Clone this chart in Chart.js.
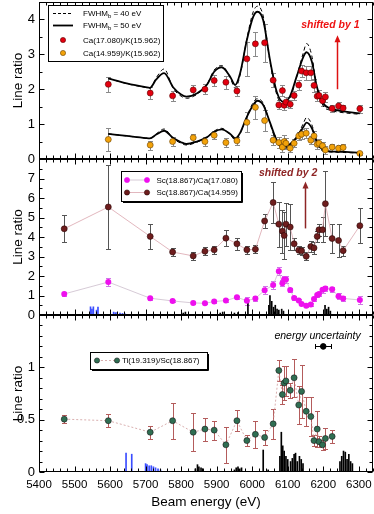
<!DOCTYPE html>
<html><head><meta charset="utf-8">
<script src="https://cdn.jsdelivr.net/npm/chart.js@4.4.1/dist/chart.umd.min.js"></script>
<style>
html,body{margin:0;padding:0;background:#fff;width:374px;height:514px;overflow:hidden;position:relative;}
canvas{position:absolute;left:0;}
</style></head><body>
<canvas id="cA" width="390" height="189" style="top:-14px"></canvas>
<canvas id="cB" width="390" height="188" style="top:143px"></canvas>
<canvas id="cC" width="390" height="215" style="top:299px"></canvas>
<script>
// ===================== DATA =====================
const energies = [5471,5595,5713,5776,5834,5867,5893,5926,5957,5985,6009,6035,6059,6075,6085,6090,6095,6107,6118,6131,6139,6152,6165,6174,6183,6188,6198,6206,6225,6243,6256,6303];

// Top panel: Ca(17.080)/K(15.962) (plotted shifted by +1) and Ca(14.959)/K(15.962)
const caK17    = [null,1.14,0.89,0.81,0.98,1.00,1.25,1.20,0.95,1.87,2.30,2.33,1.26,0.55,0.96,0.54,0.63,0.57,0.82,1.12,1.52,1.47,1.47,1.11,0.80,0.82,0.67,0.78,0.45,0.52,0.46,0.44];
const caK17Err = [null,0.21,0.18,0.14,0.15,0.15,0.16,0.18,0.15,0.48,0.35,0.54,0.21,0.13,0.15,0.13,0.14,0.12,0.14,0.14,0.18,0.20,0.20,0.19,0.15,0.15,0.14,0.15,0.10,0.10,0.08,0.12];
const caK14    = [null,0.56,0.40,0.50,0.61,0.50,0.68,0.47,0.52,1.05,1.48,1.10,0.54,0.47,0.34,0.50,0.45,0.31,0.45,0.66,0.71,0.74,0.54,0.66,0.42,0.45,0.38,0.26,0.34,0.31,0.33,0.16];
const caK14Err = [null,0.34,0.13,0.12,0.12,0.12,0.12,0.12,0.12,0.29,0.32,0.31,0.14,0.15,0.15,0.20,0.15,0.10,0.12,0.12,0.14,0.14,0.12,0.13,0.12,0.12,0.12,0.12,0.10,0.10,0.10,0.05];

// Theory curves
const theoryE      = [5595,5647,5700,5712,5730,5752,5778,5800,5815,5844,5872,5893,5914,5938,5952,5966,5985,6003,6015,6031,6050,6069,6088,6106,6125,6144,6153,6168,6182,6200,6219,6247,6303];
const fwhm50Upper  = [1.31,1.17,1.06,1.04,1.28,1.46,1.05,0.85,0.79,0.88,1.12,1.50,1.63,1.36,1.12,1.46,2.41,3.08,3.22,2.98,1.84,0.93,0.64,0.79,1.36,1.93,2.06,1.79,1.07,0.60,0.45,0.38,0.31];
const fwhm40Upper  = [1.31,1.16,1.05,1.03,1.33,1.58,1.02,0.80,0.74,0.85,1.12,1.55,1.68,1.33,1.03,1.40,2.45,3.22,3.38,3.10,1.80,0.85,0.55,0.72,1.35,2.05,2.31,1.95,1.05,0.52,0.40,0.34,0.28];
const fwhm50Lower  = [0.72,0.66,0.60,0.59,0.70,0.81,0.60,0.48,0.43,0.50,0.62,0.78,0.85,0.72,0.59,0.75,1.21,1.55,1.67,1.55,1.05,0.54,0.35,0.42,0.62,0.92,1.04,0.88,0.50,0.26,0.22,0.21,0.18];
const fwhm40Lower  = [0.72,0.66,0.60,0.59,0.72,0.86,0.58,0.45,0.40,0.48,0.62,0.80,0.88,0.70,0.55,0.72,1.22,1.62,1.73,1.60,1.02,0.48,0.30,0.38,0.62,1.02,1.19,0.98,0.48,0.22,0.20,0.19,0.17];

// Middle panel: Sc(18.867)/Ca(17.080) and Sc(18.867)/Ca(14.959) (plotted shifted by +2)
const scCa17    = [1.08,1.69,0.86,0.72,0.62,0.60,0.69,0.74,0.91,0.73,0.85,1.27,1.54,2.25,1.63,1.82,1.82,1.28,0.87,0.74,0.57,0.47,0.54,0.82,1.03,1.08,1.30,1.36,1.32,0.96,0.85,0.77];
const scCa17Err = [0.12,0.22,0.08,0.06,0.06,0.06,0.06,0.06,0.08,0.20,0.15,0.20,0.20,0.22,0.15,0.20,0.20,0.12,0.08,0.07,0.07,0.06,0.07,0.10,0.10,0.10,0.15,0.15,0.12,0.15,0.15,0.20];
const scCa14    = [2.42,3.54,2.03,1.23,1.03,1.27,1.34,1.94,1.65,1.34,1.37,2.82,3.77,2.66,2.30,2.08,2.66,2.51,1.65,1.32,1.29,1.01,1.51,1.44,2.03,2.37,2.37,3.71,1.92,1.82,1.30,2.58];
const scCa14Err = [0.69,2.15,0.63,0.19,0.20,0.20,0.20,0.41,0.30,0.20,0.20,0.38,1.05,1.16,1.10,1.20,1.10,1.20,0.30,0.20,0.20,0.20,0.30,0.30,0.30,0.30,0.65,1.65,0.75,0.85,0.25,0.90];

// Bottom panel: Ti(19.319)/Sc(18.867)
const tiSc    = [0.505,0.49,0.38,0.49,0.38,0.41,0.40,0.26,0.49,0.30,0.36,0.33,0.46,0.97,0.74,0.85,0.87,0.78,0.90,0.64,0.77,0.58,0.53,0.30,0.41,0.29,0.26,0.32,0.34,null,null,null];
const tiScErr = [0.035,0.06,0.06,0.17,0.18,0.11,0.09,0.17,0.10,0.05,0.13,0.07,0.14,0.10,0.09,0.16,0.14,0.07,0.18,0.18,0.25,0.14,0.19,0.05,0.17,0.05,0.05,0.10,0.06,null,null,null];

// Energy uncertainty marker
const uncertE = [6200], uncertRatio = [1.2], uncertDE = [22];

// Theoretical line spectra (stick heights)
const midBlueE  = [5545,5549,5553,5562,5566,5610,5615,5620,5628,5635,5642];
const midBlueH  = [0.42,0.30,0.42,0.25,0.40,0.15,0.12,0.13,0.10,0.08,0.06];
const midBlackE = [5806,5812,5910,5917,5950,5960,5988,6047,6050,6055,6060,6065,6070,6075,6083,6088,6205,6210,6215,6220];
const midBlackH = [0.10,0.15,0.10,0.15,0.10,0.12,0.60,0.50,1.00,0.70,0.40,0.50,0.30,0.25,0.30,0.20,0.50,0.30,0.40,0.20];
const botBlueE  = [5645,5661,5700,5704,5710,5716,5722,5728,5735,5742];
const botBlueH  = [0.18,0.17,0.08,0.07,0.06,0.06,0.05,0.04,0.03,0.02];
const botBlackE = [5840,5846,5850,5856,5862,5950,5955,5960,5965,5970,6031,6045,6078,6082,6086,6090,6095,6100,6108,6113,6118,6122,6127,6133,6138,6143,6247,6252,6257,6262,6267,6272,6277,6282];
const botBlackH = [0.03,0.07,0.05,0.04,0.03,0.02,0.04,0.05,0.03,0.04,0.21,0.02,0.15,0.38,0.25,0.20,0.15,0.12,0.10,0.13,0.17,0.18,0.10,0.15,0.12,0.08,0.10,0.15,0.20,0.19,0.12,0.17,0.10,0.08];

const xTicks = [5400,5500,5600,5700,5800,5900,6000,6100,6200,6300];
const yTicksTop = [0,1,2,3,4];
const yTicksMid = [0,1,2,3,4,5,6,7];
const yTicksBot = [0,0.5,1];
const SHIFT_TOP = 1, SHIFT_MID = 2;

// ===================== HELPERS =====================
const FONT = "'Liberation Sans', Arial, Helvetica, sans-serif";
const LEG_FONT = '8px ' + FONT;
const pts = (xs, ys, shift=0) => xs.map((x,i)=>({x, y: ys[i]==null ? null : ys[i]+shift}));

const errPlugin = {
  id:'errbars',
  beforeDatasetsDraw(chart){
    const ctx = chart.ctx;
    chart.data.datasets.forEach((ds,di)=>{
      if(!ds.errY && !ds.errX) return;
      const meta = chart.getDatasetMeta(di);
      const xs = chart.scales[meta.xAxisID], ys = chart.scales[meta.yAxisID];
      ctx.save(); ctx.strokeStyle = ds.errColor; ctx.lineWidth = 1;
      ds.data.forEach((p,i)=>{
        if(p.y==null) return;
        const x = Math.round(xs.getPixelForValue(p.x))+0.5;
        const y = Math.round(ys.getPixelForValue(p.y))+0.5;
        ctx.beginPath();
        if(ds.errY && ds.errY[i]!=null){
          const e = ds.errY[i];
          const y1 = Math.round(ys.getPixelForValue(p.y-e))+0.5, y2 = Math.round(ys.getPixelForValue(p.y+e))+0.5;
          ctx.moveTo(x,y1); ctx.lineTo(x,y2);
          ctx.moveTo(x-2.5,y1); ctx.lineTo(x+2.5,y1);
          ctx.moveTo(x-2.5,y2); ctx.lineTo(x+2.5,y2);
        }
        if(ds.errX && ds.errX[i]!=null){
          const e = ds.errX[i];
          const x1 = Math.round(xs.getPixelForValue(p.x-e))+0.5, x2 = Math.round(xs.getPixelForValue(p.x+e))+0.5;
          ctx.moveTo(x1,y); ctx.lineTo(x2,y);
          ctx.moveTo(x1,y-2.5); ctx.lineTo(x1,y+2.5);
          ctx.moveTo(x2,y-2.5); ctx.lineTo(x2,y+2.5);
        }
        ctx.stroke();
      });
      ctx.restore();
    });
  }
};

function framePlugin(yMajorStep, yMinorStep){
  return {id:'frame', afterDatasetsDraw(chart){
    const {ctx, chartArea:a, scales} = chart;
    const xs = scales.x, ys = scales.y;
    const L = Math.round(a.left)+0.5, R = Math.round(a.right)-0.5, T = Math.round(a.top)+0.5, B = Math.round(a.bottom)-0.5;
    ctx.save(); ctx.strokeStyle='#000'; ctx.lineWidth=1;
    ctx.beginPath();
    for(let e=xs.min; e<=xs.max+1e-6; e+=20){
      const px = Math.round(xs.getPixelForValue(e))+0.5;
      const len = (Math.round(e)%100===0) ? 5 : 3;
      ctx.moveTo(px,B); ctx.lineTo(px,B-len);
      ctx.moveTo(px,T); ctx.lineTo(px,T+len);
    }
    for(let v=ys.min; v<=ys.max+1e-6; v+=yMinorStep){
      const py = Math.round(ys.getPixelForValue(v))+0.5;
      const r = v/yMajorStep, len = Math.abs(r-Math.round(r))<1e-6 ? 5 : 3;
      ctx.moveTo(L,py); ctx.lineTo(L+len,py);
      ctx.moveTo(R,py); ctx.lineTo(R-len,py);
    }
    ctx.stroke();
    ctx.strokeRect(L,T,R-L,B-T);
    ctx.restore();
  }};
}

function yScale(min,max,ticks){
  return {type:'linear', min, max, position:'left',
    afterFit(s){ s.width = 39; },
    afterBuildTicks(s){ s.ticks = ticks.map(v=>({value:v})); },
    grid:{display:false, drawTicks:false}, border:{display:false},
    ticks:{font:{family:FONT,size:13}, color:'#000', padding:4, autoSkip:false, callback:v=>String(v)},
    title:{display:true, text:'Line ratio', font:{family:FONT,size:13.5}, color:'#000', padding:{top:10,bottom:0}}
  };
}
function xScale(show){
  return {type:'linear', min:5400, max:6340, offset:false, display:show,
    afterBuildTicks(s){ s.ticks = xTicks.map(v=>({value:v})); },
    afterFit(s){ if(show) s.height = 40; },
    grid:{display:false, drawTicks:false, offset:false}, border:{display:false},
    ticks:{font:{family:FONT,size:11.5}, color:'#000', padding:6, maxRotation:0, autoSkip:false, callback:v=>String(v)},
    title:{display:true, text:'Beam energy (eV)', font:{family:FONT,size:13.5}, color:'#000', padding:{top:0,bottom:2}}
  };
}
function baseOptions(yS, show, pad){
  return {responsive:false, animation:false, events:[],
    layout:{padding:pad},
    plugins:{legend:{display:false}, tooltip:{enabled:false}},
    scales:{x:xScale(show), y:yS}};
}
function scatterDS(data, fill, border, errY, errColor, extra={}){
  return Object.assign({type:'line', data, showLine:false, pointRadius:3, pointBorderWidth:0.6,
    pointBackgroundColor:fill, pointBorderColor:border, borderColor:fill, errY, errColor, order:1}, extra);
}
function sticks(E,H,color){
  return {type:'bar', data:E.map((x,i)=>({x,y:H[i]})), backgroundColor:color, borderWidth:0,
    barThickness:1, grouped:false, order:10};
}
function arrow(ctx,x,y1,y2,color){
  ctx.save(); ctx.strokeStyle=color; ctx.fillStyle=color; ctx.lineWidth=1.5;
  ctx.beginPath(); ctx.moveTo(x,y1); ctx.lineTo(x,y2+5); ctx.stroke();
  ctx.beginPath(); ctx.moveTo(x,y2); ctx.lineTo(x-3,y2+7); ctx.lineTo(x+3,y2+7); ctx.closePath(); ctx.fill();
  ctx.restore();
}
function legendBox(ctx,x,y,w,h,shadow){
  ctx.save(); ctx.fillStyle='#fff'; ctx.fillRect(x,y,w,h);
  ctx.strokeStyle='#000'; ctx.lineWidth=1; ctx.strokeRect(x+0.5,y+0.5,w,h);
  if(shadow){ ctx.beginPath(); ctx.moveTo(x+2,y+h+1.5); ctx.lineTo(x+w+1.5,y+h+1.5); ctx.lineTo(x+w+1.5,y+2); ctx.stroke(); }
  ctx.restore();
}
function dot(ctx,x,y,fill,border){
  ctx.save(); ctx.beginPath(); ctx.arc(x,y,2.6,0,Math.PI*2); ctx.fillStyle=fill; ctx.fill();
  ctx.lineWidth=0.6; ctx.strokeStyle=border; ctx.stroke(); ctx.restore();
}
function txt(ctx,s,x,y,font,color,align){
  ctx.save(); ctx.font=font; ctx.fillStyle=color||'#000'; ctx.textAlign=align||'left'; ctx.textBaseline='middle';
  ctx.fillText(s,x,y); ctx.restore();
}

const RED='#e3000f', RED_B='#5a0000', ORA='#f2a20a', ORA_B='#6a4000';
const MAG='#ee10ee', BRN='#6e1d1d', GRN='#2f6e52';

// ===================== CHART A (top) =====================
const oyA = -14;
new Chart(document.getElementById('cA'), {
  type:'line',
  data:{datasets:[
    {data:pts(theoryE,fwhm40Upper,SHIFT_TOP), borderColor:'#000', borderWidth:1, borderDash:[4,3], pointRadius:0, cubicInterpolationMode:'monotone', order:3},
    {data:pts(theoryE,fwhm50Upper,SHIFT_TOP), borderColor:'#000', borderWidth:1.8, pointRadius:0, cubicInterpolationMode:'monotone', order:2},
    {data:pts(theoryE,fwhm40Lower), borderColor:'#000', borderWidth:1, borderDash:[4,3], pointRadius:0, cubicInterpolationMode:'monotone', order:3},
    {data:pts(theoryE,fwhm50Lower), borderColor:'#000', borderWidth:1.8, pointRadius:0, cubicInterpolationMode:'monotone', order:2},
    scatterDS(pts(energies,caK17,SHIFT_TOP), RED, RED_B, caK17Err, '#8a8a8a'),
    scatterDS(pts(energies,caK14), ORA, ORA_B, caK14Err, '#8a8a8a')
  ]},
  options: baseOptions(yScale(0,4.5,yTicksTop), false, {top:16,bottom:16,left:0,right:17}),
  plugins:[errPlugin, framePlugin(1,0.5), {id:'decoA', afterDraw(chart){
    const ctx=chart.ctx, xs=chart.scales.x, ys=chart.scales.y;
    legendBox(ctx,48,5-oyA,115,56,false);
    const f=LEG_FONT;
    ctx.save(); ctx.strokeStyle='#000';
    ctx.lineWidth=1; ctx.setLineDash([3,2]); ctx.beginPath(); ctx.moveTo(53,13.5-oyA); ctx.lineTo(73,13.5-oyA); ctx.stroke();
    ctx.setLineDash([]); ctx.lineWidth=1.8; ctx.beginPath(); ctx.moveTo(53,25.5-oyA); ctx.lineTo(73,25.5-oyA); ctx.stroke();
    ctx.restore();
    [['40',13.5],['50',25.5]].forEach(([w,y])=>{
      ctx.save(); ctx.font=f; const w1=ctx.measureText('FWHM').width; ctx.font='6px '+FONT; const w2=ctx.measureText('b').width; ctx.restore();
      txt(ctx,'FWHM',83,y-oyA,f);
      txt(ctx,'b',83+w1,y+2.5-oyA,'6px '+FONT);
      txt(ctx,' = '+w+' eV',83+w1+w2,y-oyA,f);
    });
    dot(ctx,63,40-oyA,RED,RED_B); txt(ctx,'Ca(17.080)/K(15.962)',83,40.5-oyA,f);
    dot(ctx,63,53-oyA,ORA,ORA_B); txt(ctx,'Ca(14.959)/K(15.962)',83,53.5-oyA,f);
    txt(ctx,'shifted by 1', xs.getPixelForValue(6220), ys.getPixelForValue(3.84), 'italic bold 10.5px '+FONT, '#ee1111','center');
    arrow(ctx, Math.round(xs.getPixelForValue(6239))+0.5, ys.getPixelForValue(2.0), ys.getPixelForValue(3.55), '#dd1111');
  }}]
});

// ===================== CHART B (middle) =====================
const oyB = 143;
new Chart(document.getElementById('cB'), {
  type:'line',
  data:{datasets:[
    scatterDS(pts(energies,scCa17), MAG, MAG, scCa17Err, '#cf78e6', {showLine:true, borderColor:'#cbbccb', borderWidth:0.8, pointBorderWidth:0}),
    scatterDS(pts(energies,scCa14,SHIFT_MID), BRN, '#2a0505', scCa14Err, '#555555', {showLine:true, borderColor:'#dba5ad', borderWidth:0.8}),
    sticks(midBlueE,midBlueH,'#3a4dff'),
    sticks(midBlackE,midBlackH,'#000')
  ]},
  options: baseOptions(yScale(0,8,yTicksMid), false, {top:16,bottom:16,left:0,right:17}),
  plugins:[errPlugin, framePlugin(1,0.5), {id:'decoB', afterDraw(chart){
    const ctx=chart.ctx, xs=chart.scales.x, ys=chart.scales.y;
    legendBox(ctx,121,171-oyB,120,30,true);
    const f=LEG_FONT;
    ctx.save(); ctx.lineWidth=0.8;
    ctx.strokeStyle='#cbbccb'; ctx.beginPath(); ctx.moveTo(127,180-oyB); ctx.lineTo(147,180-oyB); ctx.stroke();
    ctx.strokeStyle='#dba5ad'; ctx.beginPath(); ctx.moveTo(127,192.5-oyB); ctx.lineTo(147,192.5-oyB); ctx.stroke();
    ctx.restore();
    dot(ctx,127,180-oyB,MAG,MAG); dot(ctx,147,180-oyB,MAG,MAG);
    dot(ctx,127,192.5-oyB,BRN,'#2a0505'); dot(ctx,147,192.5-oyB,BRN,'#2a0505');
    txt(ctx,'Sc(18.867)/Ca(17.080)',156.5,180.5-oyB,f);
    txt(ctx,'Sc(18.867)/Ca(14.959)',156.5,193-oyB,f);
    txt(ctx,'shifted by 2', xs.getPixelForValue(6101), ys.getPixelForValue(7.28), 'italic bold 10.5px '+FONT, '#8e2525','center');
    arrow(ctx, Math.round(xs.getPixelForValue(6149))+0.5, ys.getPixelForValue(4.44), ys.getPixelForValue(6.85), '#8e2525');
  }}]
});

// ===================== CHART C (bottom) =====================
const oyC = 299;
new Chart(document.getElementById('cC'), {
  type:'line',
  data:{datasets:[
    scatterDS(pts(energies,tiSc), GRN, '#1a1a1a', tiScErr, '#b45c5c', {showLine:true, borderColor:'#cf9a9a', borderWidth:0.8, borderDash:[2,2]}),
    {type:'line', data:pts(uncertE,uncertRatio), showLine:false, pointRadius:2.8, pointBackgroundColor:'#000', pointBorderColor:'#000', errX:uncertDE, errColor:'#000', order:1},
    sticks(botBlueE,botBlueH,'#3a4dff'),
    sticks(botBlackE,botBlackH,'#000')
  ]},
  options: baseOptions(yScale(0,1.5,yTicksBot), true, {top:16,bottom:2,left:0,right:17}),
  plugins:[errPlugin, framePlugin(0.5,0.1), {id:'decoC', afterDraw(chart){
    const ctx=chart.ctx, xs=chart.scales.x, ys=chart.scales.y;
    legendBox(ctx,90,352-oyC,117,17,true);
    ctx.save(); ctx.lineWidth=0.8; ctx.strokeStyle='#cf9a9a'; ctx.setLineDash([2,2]);
    ctx.beginPath(); ctx.moveTo(97,360.5-oyC); ctx.lineTo(117,360.5-oyC); ctx.stroke(); ctx.restore();
    dot(ctx,97,360.5-oyC,GRN,'#1a1a1a'); dot(ctx,117,360.5-oyC,GRN,'#1a1a1a');
    txt(ctx,'Ti(19.319)/Sc(18.867)',122,361-oyC,LEG_FONT);
    txt(ctx,'energy uncertainty', xs.getPixelForValue(6184), ys.getPixelForValue(1.30), 'italic 10.5px '+FONT, '#000','center');
  }}]
});
</script>
</body></html>
